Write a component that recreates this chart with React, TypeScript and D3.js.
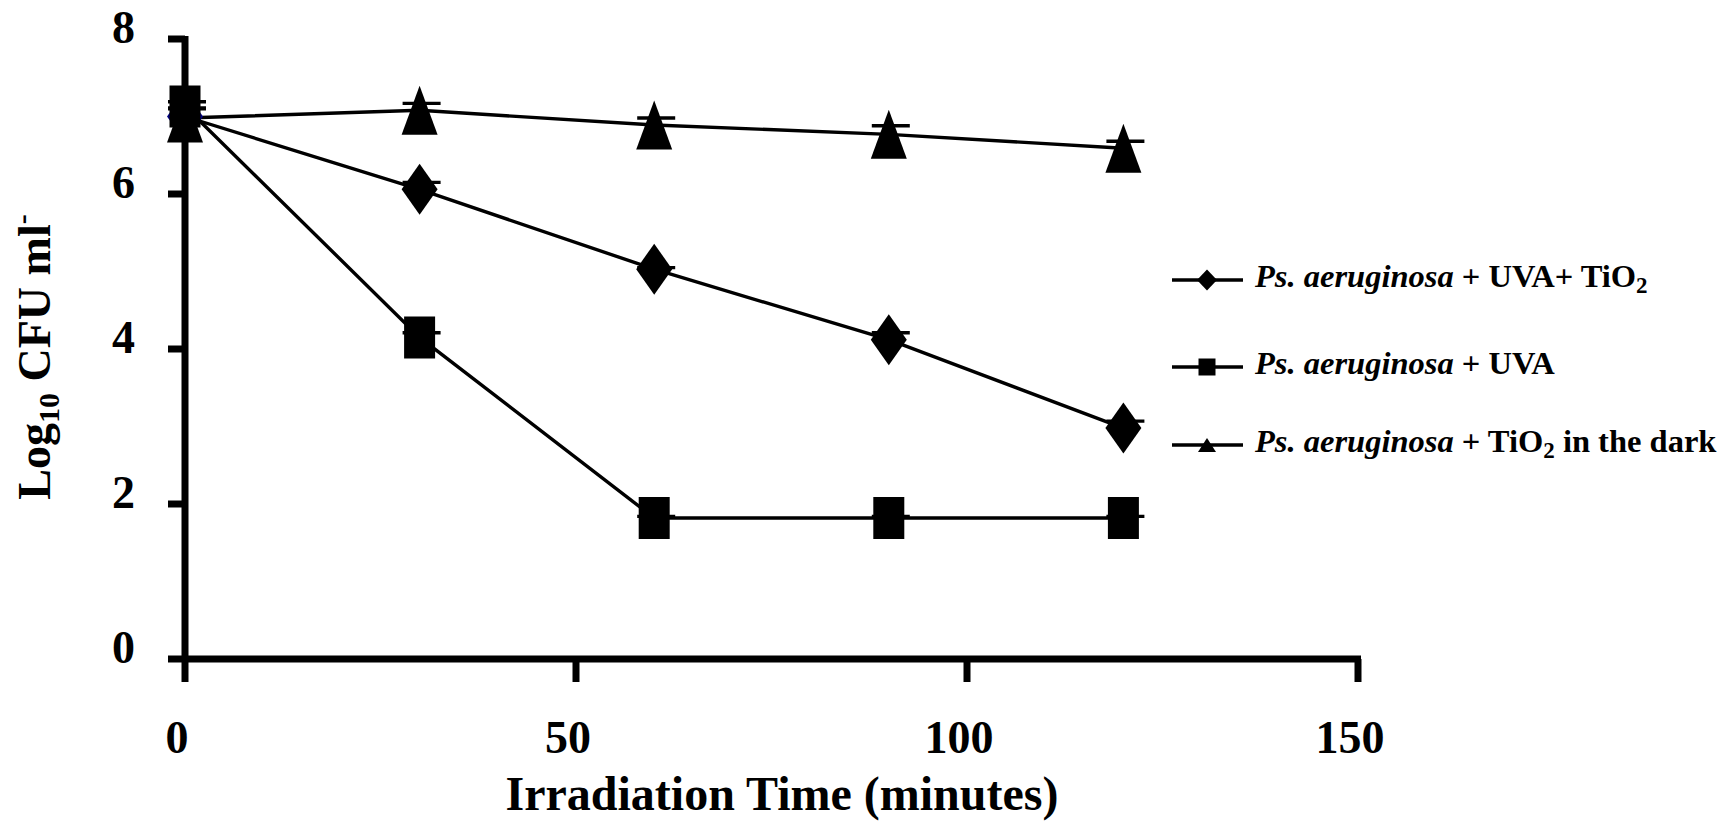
import React from 'react';
import * as d3 from 'd3';

// irradiation time (minutes)
const times = [0, 30, 60, 90, 120];

// log10 CFU/ml
const uvaTio2 = [7.0, 6.06, 5.03, 4.12, 2.98];
const uvaTio2Err = [0.1, 0.09, 0.02, 0.09, 0.09];
const uvaOnly = [7.13, 4.15, 1.82, 1.82, 1.82];
const uvaOnlyErr = [0.06, 0.06, 0.02, 0.02, 0.02];
const darkTio2 = [6.98, 7.08, 6.89, 6.77, 6.59];
const darkTio2Err = [0.13, 0.09, 0.09, 0.11, 0.09];

const xTicks = [0, 50, 100, 150];
const yTicks = [0, 2, 4, 6, 8];

const FONT = '"Liberation Serif", "Times New Roman", serif';

const markerPath = (shape: string, w: number, h: number) => {
  if (shape === 'diamond') return `M0,${-h / 2}L${w / 2},0L0,${h / 2}L${-w / 2},0Z`;
  if (shape === 'triangle') return `M0,${-h / 2}L${w / 2},${h / 2}L${-w / 2},${h / 2}Z`;
  return `M${-w / 2},${-h / 2}h${w}v${h}h${-w}Z`;
};

const series = [
  { key: 'uvaTio2', values: uvaTio2, err: uvaTio2Err, shape: 'diamond', w: 36, h: 51 },
  { key: 'uvaOnly', values: uvaOnly, err: uvaOnlyErr, shape: 'square', w: 31, h: 42 },
  { key: 'dark', values: darkTio2, err: darkTio2Err, shape: 'triangle', w: 36, h: 49 },
];

const App = () => {
  const x = d3.scaleLinear().domain([0, 150]).range([185, 1358]);
  const y = d3.scaleLinear().domain([0, 8]).range([659, 39]);
  const line = d3.line<number>().x((_, i) => x(times[i])).y(d => y(d));

  const legendY = [280, 367, 445];
  const legendShapes = [
    { shape: 'diamond', w: 20, h: 21 },
    { shape: 'square', w: 17, h: 17 },
    { shape: 'triangle', w: 18, h: 14 },
  ];

  return (
    <svg width={1728} height={822} style={{ position: 'absolute', left: 0, top: 0, background: '#fff' }}
      fontFamily={FONT} fontWeight="bold">
      {/* series lines */}
      {series.map(s => (
        <path key={s.key + '-line'} d={line(s.values) || ''} fill="none" stroke="#000" strokeWidth={3.4} />
      ))}
      {/* error bars (plus direction only) */}
      {series.map(s => s.values.map((v, i) => (
        <g key={s.key + '-err' + i} stroke="#000" strokeWidth={3.4}>
          <line x1={x(times[i])} x2={x(times[i])} y1={y(v)} y2={y(v + s.err[i])} />
          <line x1={x(times[i]) - 17} x2={x(times[i]) + 21} y1={y(v + s.err[i])} y2={y(v + s.err[i])} />
        </g>
      )))}
      {/* markers */}
      {series.map(s => s.values.map((v, i) => (
        <path key={s.key + '-m' + i} transform={`translate(${x(times[i])},${y(v)})`}
          d={markerPath(s.shape, s.w, s.h)}
          fill={s.shape === 'diamond' && i === 0 ? '#000080' : '#000'} />
      )))}

      {/* axes */}
      <g stroke="#000" strokeWidth={7}>
        <line x1={185} x2={185} y1={36} y2={662} />
        <line x1={182} x2={1361} y1={659} y2={659} />
        {yTicks.map(t => <line key={'yt' + t} x1={168} x2={185} y1={y(t)} y2={y(t)} />)}
        {xTicks.map(t => <line key={'xt' + t} x1={x(t)} x2={x(t)} y1={659} y2={682} />)}
      </g>
      {yTicks.map(t => (
        <text key={'yl' + t} x={135} y={y(t) + 4} textAnchor="end" fontSize={46}>{t}</text>
      ))}
      {xTicks.map(t => (
        <text key={'xl' + t} x={x(t) - 8} y={753} textAnchor="middle" fontSize={46}>{t}</text>
      ))}

      <text x={782} y={810} textAnchor="middle" fontSize={48}>Irradiation Time (minutes)</text>
      <text transform="translate(50,357) rotate(-90)" textAnchor="middle" fontSize={46}>
        Log<tspan fontSize={30} dy={9}>10</tspan><tspan dy={-9}> CFU ml</tspan><tspan fontSize={30} dy={-18}>-</tspan>
      </text>

      {/* legend */}
      {legendY.map((ly, i) => (
        <g key={'lg' + i}>
          <line x1={1172} x2={1243} y1={ly} y2={ly} stroke="#000" strokeWidth={3.4} />
          <path transform={`translate(1207,${ly})`} d={markerPath(legendShapes[i].shape, legendShapes[i].w, legendShapes[i].h)} fill="#000" />
        </g>
      ))}
      <text x={1255} y={legendY[0] + 7} fontSize={32.5}>
        <tspan fontStyle="italic">Ps. aeruginosa</tspan> + UVA+ TiO<tspan fontSize={23} dy={6}>2</tspan>
      </text>
      <text x={1255} y={legendY[1] + 7} fontSize={32.5}>
        <tspan fontStyle="italic">Ps. aeruginosa</tspan> + UVA
      </text>
      <text x={1255} y={legendY[2] + 7} fontSize={32.5}>
        <tspan fontStyle="italic">Ps. aeruginosa</tspan> + TiO<tspan fontSize={23} dy={6}>2</tspan><tspan dy={-6}> in the dark</tspan>
      </text>
    </svg>
  );
};

export default App;
